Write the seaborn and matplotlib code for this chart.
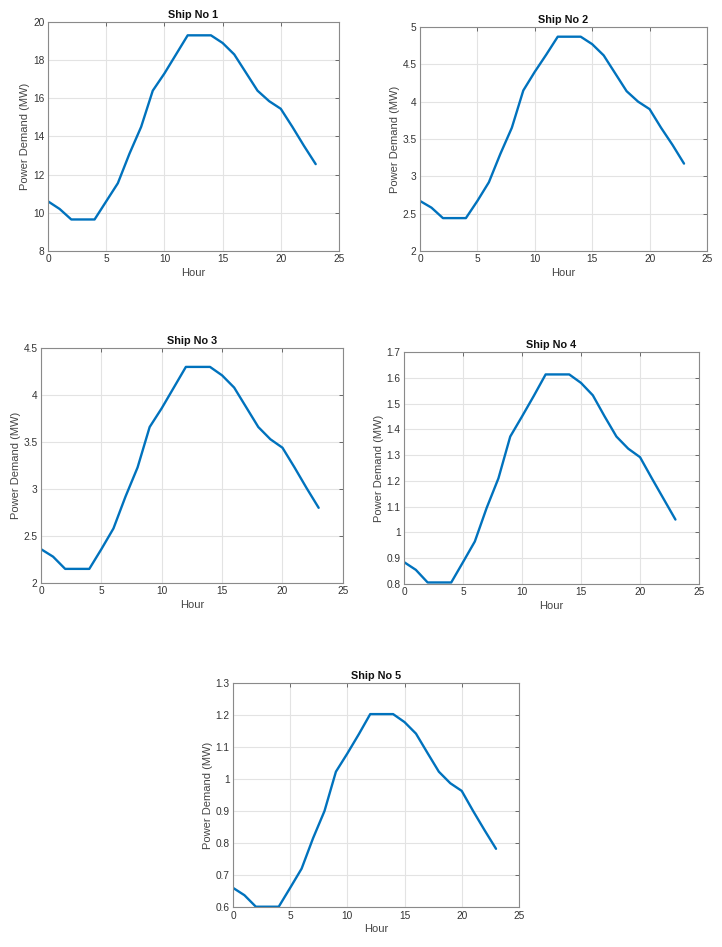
import matplotlib
matplotlib.use("Agg")
import matplotlib.pyplot as plt
import numpy as np
import pandas as pd
import seaborn as sns

# HOURLY POWER DEMAND PER SHIP

hours = list(range(24))

ship1 = [10.6, 10.2, 9.65, 9.65, 9.65, 10.6, 11.55, 13.1, 14.5, 16.4, 17.3, 18.3,
         19.3, 19.3, 19.3, 18.9, 18.3, 17.35, 16.4, 15.85, 15.45, 14.5, 13.5, 12.55]
ship2 = [2.67, 2.58, 2.44, 2.44, 2.44, 2.67, 2.92, 3.3, 3.65, 4.15, 4.4, 4.63,
         4.87, 4.87, 4.87, 4.77, 4.62, 4.38, 4.14, 4.0, 3.9, 3.65, 3.42, 3.17]
ship3 = [2.36, 2.28, 2.15, 2.15, 2.15, 2.36, 2.58, 2.92, 3.23, 3.66, 3.86, 4.08,
         4.30, 4.30, 4.30, 4.21, 4.08, 3.87, 3.66, 3.53, 3.44, 3.23, 3.01, 2.80]
ship4 = [0.885, 0.855, 0.806, 0.806, 0.806, 0.885, 0.965, 1.095, 1.21, 1.372, 1.45, 1.53,
         1.613, 1.613, 1.613, 1.58, 1.532, 1.45, 1.372, 1.325, 1.292, 1.21, 1.13, 1.05]
ship5 = [0.66, 0.637, 0.601, 0.601, 0.601, 0.66, 0.72, 0.815, 0.9, 1.023, 1.08, 1.14,
         1.203, 1.203, 1.203, 1.178, 1.142, 1.082, 1.023, 0.987, 0.963, 0.9, 0.84, 0.782]

ship_names = ["Ship No 1", "Ship No 2", "Ship No 3", "Ship No 4", "Ship No 5"]
ship_data = [ship1, ship2, ship3, ship4, ship5]

# y-axis ranges and ticks per panel
y_limits = [(8, 20), (2, 5), (2, 4.5), (0.8, 1.7), (0.6, 1.3)]
y_ticks = [
    [8, 10, 12, 14, 16, 18, 20],
    [2, 2.5, 3, 3.5, 4, 4.5, 5],
    [2, 2.5, 3, 3.5, 4, 4.5],
    [0.8, 0.9, 1, 1.1, 1.2, 1.3, 1.4, 1.5, 1.6, 1.7],
    [0.6, 0.7, 0.8, 0.9, 1, 1.1, 1.2, 1.3],
]
x_ticks = [0, 5, 10, 15, 20, 25]

# axes boxes [left, bottom, width, height] in figure fraction
boxes = [
    [0.0665, 0.735, 0.403, 0.2418],
    [0.5817, 0.735, 0.3975, 0.2365],
    [0.0568, 0.3844, 0.418, 0.248],
    [0.5596, 0.3833, 0.4086, 0.245],
    [0.3227, 0.0422, 0.396, 0.2365],
]

sns.set_style("white")
plt.rcParams["font.family"] = ["Liberation Sans", "DejaVu Sans"]

fig = plt.figure(figsize=(7.22, 9.47), dpi=100)

for name, values, ylim, yt, box in zip(ship_names, ship_data, y_limits, y_ticks, boxes):
    ax = fig.add_axes(box)
    df = pd.DataFrame({"Hour": hours, "Power": values})
    sns.lineplot(data=df, x="Hour", y="Power", ax=ax, color="#0072BD", linewidth=1.7)
    ax.set_xlim(0, 25)
    ax.set_ylim(*ylim)
    ax.set_xticks(x_ticks)
    ax.set_yticks(yt)
    ax.set_yticklabels([f"{t:g}" for t in yt])
    ax.grid(True, color="#e3e3e3", linewidth=0.8)
    ax.set_axisbelow(True)
    for side in ax.spines.values():
        side.set_color("#8a8a8a")
        side.set_linewidth(0.8)
    ax.tick_params(direction="in", length=3, width=0.6, color="#555555",
                   labelsize=7.3, labelcolor="#333333", top=True, right=True, pad=2.5)
    ax.set_title(name, fontsize=7.8, fontweight="bold", color="#111111", pad=3)
    ax.set_xlabel("Hour", fontsize=8, color="#444444", labelpad=2.5)
    ax.set_ylabel("Power Demand (MW)", fontsize=8, color="#444444", labelpad=2)

fig.savefig("out.png", dpi=100, facecolor="white")
